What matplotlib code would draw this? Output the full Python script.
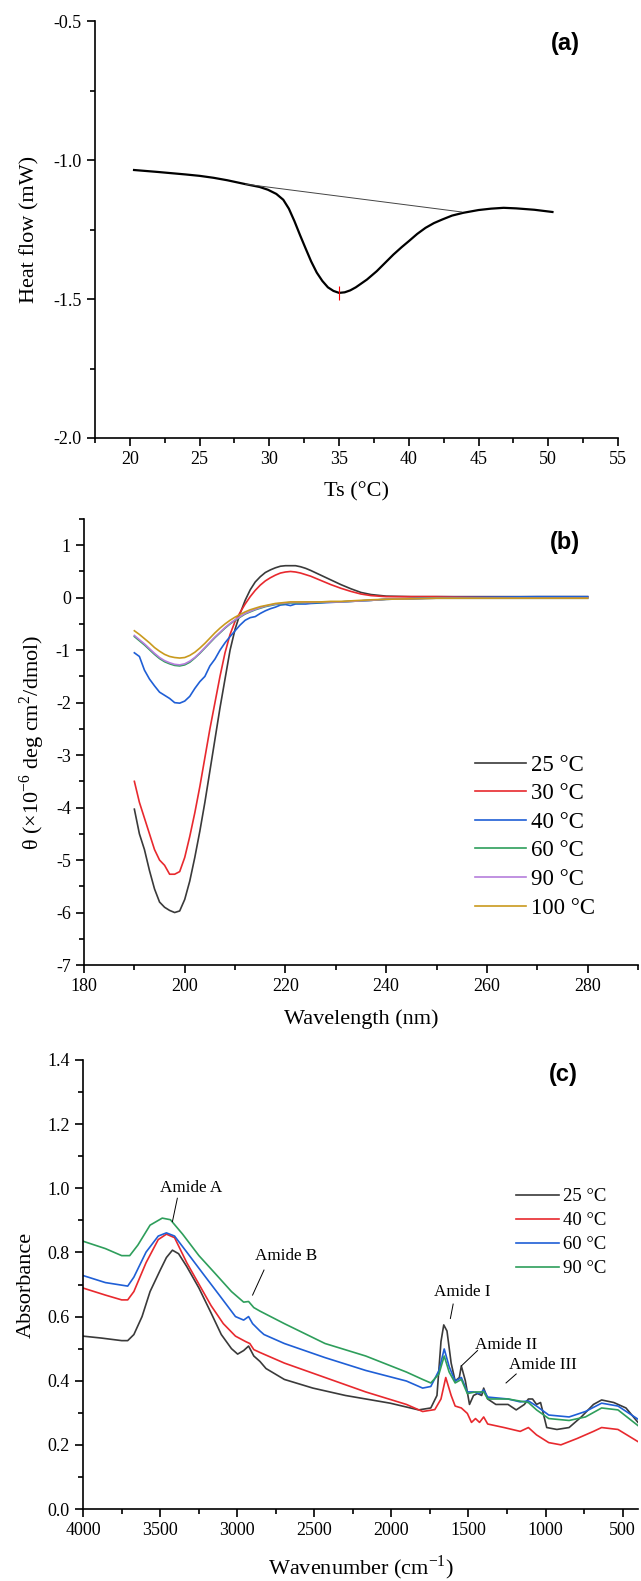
import numpy as np
import matplotlib.pyplot as plt
from matplotlib.ticker import MultipleLocator

plt.rcParams['font.family'] = ['Liberation Serif', 'DejaVu Serif']
plt.rcParams['mathtext.fontset'] = 'custom'
plt.rcParams['mathtext.rm'] = 'Liberation Serif'
plt.rcParams['axes.unicode_minus'] = False

# ---- (a) DSC ----
dsc_T = [20.3, 22.0, 24.0, 25.0, 26.0, 27.0, 28.3, 29.3, 29.9, 30.5, 31.0, 31.4, 31.8,
         32.2, 32.6, 33.0, 33.4, 33.8, 34.2, 34.6, 35.0, 35.4, 35.8, 36.2, 37.0, 37.7,
         38.3, 38.9, 39.5, 40.0, 40.6, 41.2, 41.8, 42.4, 43.1, 43.9, 45.0, 45.9, 46.8,
         47.7, 49.0, 50.3]
dsc_H = [-1.036, -1.043, -1.052, -1.057, -1.064, -1.073, -1.087, -1.097, -1.107, -1.122,
         -1.143, -1.175, -1.22, -1.27, -1.318, -1.365, -1.405, -1.435, -1.458, -1.471,
         -1.478, -1.476, -1.469, -1.458, -1.43, -1.40, -1.37, -1.34, -1.313, -1.292,
         -1.266, -1.244, -1.227, -1.214, -1.2, -1.19, -1.18, -1.175, -1.172, -1.174,
         -1.179, -1.187]
base_T = [28.3, 43.8]
base_H = [-1.087, -1.187]
peak_T = 35.0
peak_H = -1.478

# ---- (b) CD ----
cd_wl = [190, 191, 192, 193, 194, 195, 196, 197, 198, 199, 200, 201, 202, 203, 204, 205,
         206, 207, 208, 209, 210, 211, 212, 213, 214, 215, 216, 217, 218, 219, 220, 221,
         222, 223, 224, 225, 227, 229, 231, 233, 235, 237, 240, 245, 250, 260, 270, 280]
cd_25 = [-4.03, -4.5, -4.8, -5.2, -5.55, -5.8, -5.9, -5.96, -6.0, -5.97, -5.75, -5.4,
         -4.95, -4.45, -3.9, -3.3, -2.7, -2.1, -1.55, -1.0, -0.6, -0.3, -0.05, 0.15, 0.3,
         0.4, 0.48, 0.53, 0.57, 0.6, 0.61, 0.61, 0.61, 0.59, 0.56, 0.52, 0.43, 0.34, 0.25,
         0.17, 0.1, 0.06, 0.03, 0.02, 0.02, 0.02, 0.02, 0.02]
cd_30 = [-3.5, -3.9, -4.2, -4.5, -4.8, -5.0, -5.1, -5.27, -5.27, -5.22, -4.95, -4.55,
         -4.1, -3.6, -3.05, -2.5, -2.0, -1.5, -1.05, -0.7, -0.45, -0.28, -0.12, 0.02, 0.14,
         0.24, 0.32, 0.38, 0.43, 0.47, 0.49, 0.5, 0.49, 0.47, 0.44, 0.41, 0.33, 0.25, 0.18,
         0.12, 0.07, 0.04, 0.02, 0.02, 0.02, 0.01, 0.01, 0.01]
cd_40 = [-1.05, -1.12, -1.38, -1.55, -1.68, -1.8, -1.86, -1.92, -2.0, -2.01, -1.97, -1.88,
         -1.73, -1.6, -1.5, -1.3, -1.17, -1.0, -0.86, -0.74, -0.63, -0.52, -0.43, -0.38,
         -0.36, -0.3, -0.25, -0.21, -0.18, -0.14, -0.13, -0.15, -0.12, -0.12, -0.12, -0.11,
         -0.1, -0.09, -0.08, -0.07, -0.06, -0.05, -0.03, -0.02, 0.0, 0.01, 0.02, 0.02]
cd_60 = [-0.74, -0.82, -0.9, -0.99, -1.08, -1.16, -1.22, -1.26, -1.29, -1.3, -1.28, -1.23,
         -1.15, -1.06, -0.96, -0.86, -0.76, -0.67, -0.58, -0.5, -0.43, -0.37, -0.31, -0.27,
         -0.23, -0.2, -0.17, -0.15, -0.13, -0.12, -0.11, -0.1, -0.1, -0.1, -0.09, -0.09,
         -0.09, -0.08, -0.08, -0.07, -0.06, -0.05, -0.03, -0.02, -0.01, -0.01, -0.01, -0.01]
cd_90 = [-0.72, -0.8, -0.88, -0.97, -1.06, -1.14, -1.2, -1.24, -1.27, -1.28, -1.26, -1.21,
         -1.14, -1.05, -0.95, -0.85, -0.75, -0.66, -0.57, -0.49, -0.42, -0.36, -0.3, -0.26,
         -0.22, -0.19, -0.16, -0.14, -0.12, -0.11, -0.1, -0.09, -0.09, -0.09, -0.09, -0.09,
         -0.08, -0.08, -0.08, -0.07, -0.06, -0.05, -0.03, -0.02, -0.01, -0.01, -0.01, -0.01]
cd_100 = [-0.63, -0.7, -0.78, -0.86, -0.95, -1.02, -1.08, -1.12, -1.14, -1.15, -1.14, -1.1,
          -1.04, -0.96, -0.87, -0.77, -0.67, -0.58, -0.5, -0.43, -0.37, -0.32, -0.27, -0.23,
          -0.2, -0.17, -0.15, -0.13, -0.11, -0.1, -0.09, -0.08, -0.08, -0.08, -0.08, -0.08,
          -0.08, -0.07, -0.07, -0.06, -0.05, -0.04, -0.03, -0.02, -0.01, -0.01, -0.01, -0.01]
cd_labels = ['25 °C', '30 °C', '40 °C', '60 °C', '90 °C', '100 °C']
cd_colors = ['#3a3a3a', '#e8292e', '#1f5fd6', '#2e9e5b', '#b57edc', '#c99a1e']

# ---- (c) FTIR ----
ir_wn_25 = [4000, 3881, 3749, 3710, 3670, 3617, 3565, 3499, 3459, 3420, 3380, 3327, 3248,
            3169, 3103, 3037, 2997, 2958, 2926, 2892, 2852, 2813, 2694, 2509, 2298, 2008,
            1823, 1744, 1704, 1678, 1660, 1639, 1612, 1586, 1559, 1546, 1520, 1493, 1467,
            1441, 1414, 1401, 1375, 1322, 1243, 1190, 1137, 1111, 1084, 1058, 1032, 992,
            926, 847, 768, 689, 636, 557, 478, 400]
ir_25 = [0.539, 0.533, 0.525, 0.525, 0.544, 0.6, 0.678, 0.745, 0.784, 0.807, 0.796, 0.756,
         0.689, 0.611, 0.544, 0.5, 0.483, 0.494, 0.508, 0.477, 0.46, 0.438, 0.404, 0.377,
         0.354, 0.33, 0.309, 0.315, 0.354, 0.522, 0.574, 0.555, 0.455, 0.399, 0.41, 0.446,
         0.4, 0.326, 0.354, 0.36, 0.354, 0.377, 0.343, 0.326, 0.326, 0.309, 0.326, 0.343,
         0.343, 0.326, 0.332, 0.254, 0.248, 0.254, 0.287, 0.326, 0.34, 0.332, 0.315, 0.27]
ir_wn_40 = [4000, 3855, 3749, 3710, 3670, 3591, 3512, 3459, 3406, 3327, 3248, 3169, 3090,
            3011, 2945, 2918, 2892, 2852, 2694, 2430, 2166, 1902, 1797, 1718, 1678, 1647,
            1612, 1586, 1546, 1507, 1480, 1454, 1428, 1401, 1375, 1269, 1164, 1111, 1058,
            979, 900, 794, 689, 636, 530, 400]
ir_40 = [0.689, 0.667, 0.652, 0.652, 0.678, 0.768, 0.84, 0.857, 0.846, 0.768, 0.701, 0.634,
         0.578, 0.539, 0.522, 0.516, 0.497, 0.488, 0.455, 0.41, 0.365, 0.326, 0.304, 0.31,
         0.343, 0.41, 0.354, 0.321, 0.315, 0.298, 0.27, 0.282, 0.27, 0.287, 0.265, 0.254,
         0.242, 0.254, 0.231, 0.207, 0.2, 0.22, 0.242, 0.254, 0.248, 0.21]
ir_wn_60 = [4000, 3855, 3710, 3670, 3591, 3512, 3459, 3406, 3327, 3222, 3116, 3011, 2958,
            2926, 2900, 2852, 2826, 2694, 2430, 2166, 1902, 1797, 1744, 1691, 1657, 1625,
            1586, 1546, 1507, 1467, 1428, 1401, 1375, 1243, 1164, 1111, 1058, 979, 847,
            741, 636, 530, 400]
ir_60 = [0.728, 0.706, 0.695, 0.723, 0.801, 0.851, 0.861, 0.851, 0.801, 0.734, 0.667, 0.6,
         0.589, 0.6, 0.578, 0.555, 0.544, 0.516, 0.472, 0.432, 0.399, 0.377, 0.382, 0.432,
         0.499, 0.444, 0.399, 0.41, 0.365, 0.365, 0.36, 0.371, 0.349, 0.343, 0.334, 0.337,
         0.321, 0.293, 0.287, 0.304, 0.33, 0.321, 0.28]
ir_wn_90 = [4000, 3855, 3749, 3697, 3644, 3565, 3486, 3433, 3354, 3248, 3142, 3037, 2958,
            2926, 2892, 2852, 2694, 2430, 2166, 1902, 1797, 1744, 1691, 1657, 1625, 1586,
            1546, 1507, 1454, 1401, 1375, 1243, 1111, 1058, 979, 847, 741, 636, 530, 400]
ir_90 = [0.835, 0.812, 0.79, 0.79, 0.823, 0.885, 0.907, 0.902, 0.857, 0.79, 0.734, 0.678,
         0.645, 0.647, 0.628, 0.617, 0.578, 0.516, 0.477, 0.427, 0.404, 0.393, 0.421, 0.477,
         0.427, 0.393, 0.404, 0.36, 0.365, 0.365, 0.343, 0.343, 0.332, 0.309, 0.282, 0.276,
         0.287, 0.315, 0.309, 0.26]
ir_labels = ['25 °C', '40 °C', '60 °C', '90 °C']
ir_colors = ['#3a3a3a', '#e8292e', '#1f5fd6', '#2e9e5b']

# annotation text, text position, line start, line end
amide_names = ['Amide A', 'Amide B', 'Amide I', 'Amide II', 'Amide III']
amide_text_xy = [(3301, 1.0), (2681, 0.79), (1538, 0.676), (1256, 0.51), (1018, 0.449)]
amide_line = [((3388, 0.969), (3420, 0.896)), ((2826, 0.745), (2900, 0.667)),
              ((1599, 0.639), (1617, 0.594)), ((1441, 0.494), (1546, 0.446)),
              ((1190, 0.421), (1256, 0.393))]


def style_axes(ax, fs):
    ax.spines['top'].set_visible(False)
    ax.spines['right'].set_visible(False)
    for s in ('left', 'bottom'):
        ax.spines[s].set_linewidth(1.2)
    ax.tick_params(which='major', direction='out', length=6, width=1.2, labelsize=fs)
    ax.tick_params(which='minor', direction='out', length=3.5, width=1.2)


fig = plt.figure(figsize=(6.41, 15.81), dpi=100)
W, H = 641.0, 1581.0

def add_ax(l, r, t, b):
    return fig.add_axes([l / W, 1 - b / H, (r - l) / W, (b - t) / H])

# (a)
ax1 = add_ax(95, 618, 21, 438)
ax1.plot(dsc_T, dsc_H, color='black', lw=1.6)
ax1.plot(base_T, base_H, color='#444444', lw=0.7)
ax1.plot([peak_T], [peak_H], marker='|', color='red', ms=10, mew=0.8)
ax1.set_xlim(17.5, 55)
ax1.set_ylim(-2.0, -0.5)
ax1.xaxis.set_minor_locator(MultipleLocator(2.5))
ax1.yaxis.set_major_locator(MultipleLocator(0.5))
ax1.yaxis.set_minor_locator(MultipleLocator(0.25))
ax1.yaxis.set_major_formatter(plt.FormatStrFormatter('%.1f'))
ax1.set_xticks([20, 25, 30, 35, 40, 45, 50, 55])
style_axes(ax1, 13)
ax1.set_xlabel('Ts (°C)', fontsize=16, labelpad=10)
ax1.set_ylabel('Heat flow (mW)', fontsize=16, labelpad=10)
ax1.text(51.2, -0.58, '(a)', fontsize=17, fontweight='bold',
         family='Liberation Sans', ha='center', va='center')

# (b)
ax2 = add_ax(84, 638, 519, 965)
for ys, lab, c in zip([cd_25, cd_30, cd_40, cd_60, cd_90, cd_100], cd_labels, cd_colors):
    ax2.plot(cd_wl, ys, color=c, lw=1.2, label=lab)
ax2.set_xlim(180, 290)
ax2.set_ylim(-7, 1.5)
ax2.set_xticks([180, 200, 220, 240, 260, 280])
ax2.xaxis.set_minor_locator(MultipleLocator(10))
ax2.set_yticks(range(-7, 2))
ax2.yaxis.set_minor_locator(MultipleLocator(0.5))
style_axes(ax2, 13)
ax2.set_xlabel('Wavelength (nm)', fontsize=16, labelpad=10)
ax2.set_ylabel(r'θ (×10$^{-6}$ deg cm$^{2}$/dmol)', fontsize=16, labelpad=6)
ax2.text(275.5, 1.06, '(b)', fontsize=17, fontweight='bold',
         family='Liberation Sans', ha='center', va='center')
ax2.legend(loc='upper left', bbox_to_anchor=(0.706, 0.472), frameon=False,
           fontsize=16.5, handlelength=2.2, handletextpad=0.25, labelspacing=0.33,
           borderpad=0, borderaxespad=0)

# (c)
ax3 = add_ax(83, 638, 1060, 1509)
for xs, ys, lab, c in zip([ir_wn_25, ir_wn_40, ir_wn_60, ir_wn_90],
                          [ir_25, ir_40, ir_60, ir_90], ir_labels, ir_colors):
    ax3.plot(xs, ys, color=c, lw=1.2, label=lab)
ax3.set_xlim(4000, 400)
ax3.set_ylim(0, 1.4)
ax3.set_xticks([4000, 3500, 3000, 2500, 2000, 1500, 1000, 500])
ax3.xaxis.set_minor_locator(MultipleLocator(250))
ax3.yaxis.set_major_locator(MultipleLocator(0.2))
ax3.yaxis.set_minor_locator(MultipleLocator(0.1))
ax3.yaxis.set_major_formatter(plt.FormatStrFormatter('%.1f'))
style_axes(ax3, 13)
ax3.set_xlabel(r'Wavenumber (cm$^{-1}$)', fontsize=16, labelpad=10)
ax3.set_ylabel('Absorbance', fontsize=16, labelpad=8)
ax3.text(882, 1.354, '(c)', fontsize=17, fontweight='bold',
         family='Liberation Sans', ha='center', va='center')
for name, (tx, ty), (p0, p1) in zip(amide_names, amide_text_xy, amide_line):
    ax3.text(tx, ty, name, fontsize=12.3, ha='center', va='center')
    ax3.plot([p0[0], p1[0]], [p0[1], p1[1]], color='black', lw=0.7)
ax3.legend(loc='upper left', bbox_to_anchor=(0.78, 0.715), frameon=False,
           fontsize=13.5, handlelength=2.3, handletextpad=0.2, labelspacing=0.37,
           borderpad=0, borderaxespad=0)

fig.savefig('out.png', dpi=100)
